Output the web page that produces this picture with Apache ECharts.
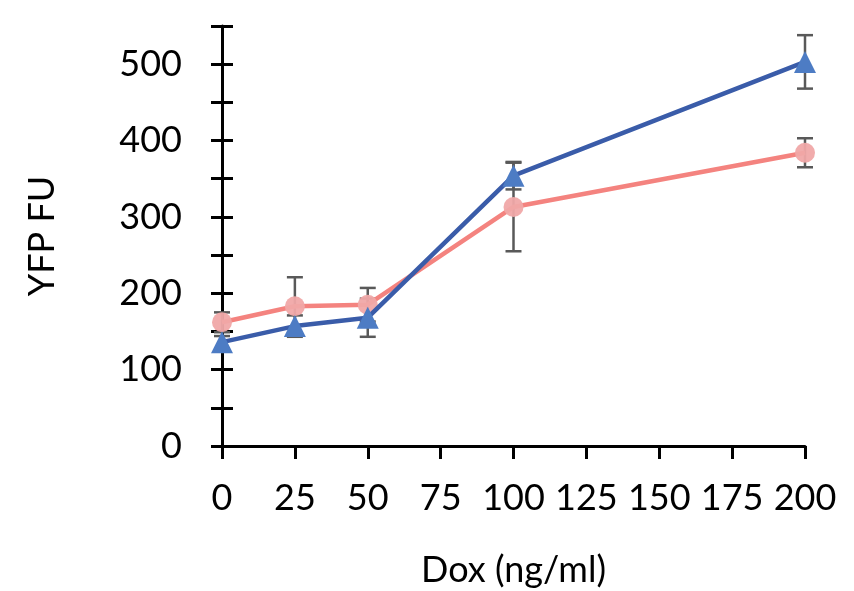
<!DOCTYPE html>
<html>
<head>
<meta charset="utf-8">
<script src="https://cdn.jsdelivr.net/npm/echarts@6/dist/echarts.min.js"></script>
<style>
  html, body { margin: 0; padding: 0; background: #fff; }
  #chart { width: 854px; height: 591px; }
</style>
</head>
<body>
<div id="chart"></div>
<script>
const doses = [0, 25, 50, 100, 200]
const xTicks = [0, 25, 50, 75, 100, 125, 150, 175, 200]

const pinkMean = [162, 183, 185, 313, 384]
const pinkErr = [13, 38, 22, 58, 19]
const blueMean = [136, 157, 168, 354, 503]
const blueErr = [8, 14, 25, 18, 35]

const FONT = 'Lato, "Open Sans", sans-serif'
const AXIS_COLOR = '#000'

function pairs(xs, ys) {
  return xs.map((x, i) => [x, ys[i]])
}

function errRows(xs, mean, err) {
  return xs.map((x, i) => [x, mean[i] - err[i], mean[i] + err[i]])
}

function renderErr(params, api) {
  const x = api.value(0)
  const lo = api.coord([x, api.value(1)])
  const hi = api.coord([x, api.value(2)])
  const cap = 8
  const style = { stroke: '#595959', lineWidth: 2.5 }
  return {
    type: 'group',
    children: [
      { type: 'line', shape: { x1: hi[0], y1: hi[1], x2: lo[0], y2: lo[1] }, style },
      { type: 'line', shape: { x1: hi[0] - cap, y1: hi[1], x2: hi[0] + cap, y2: hi[1] }, style },
      { type: 'line', shape: { x1: lo[0] - cap, y1: lo[1], x2: lo[0] + cap, y2: lo[1] }, style },
    ],
  }
}

const chart = echarts.init(document.getElementById('chart'))

chart.setOption({
  backgroundColor: '#ffffff',
  animation: false,
  grid: { left: 222, right: 49, top: 26, bottom: 145, outerBoundsMode: 'none' },
  xAxis: {
    type: 'value',
    min: 0,
    max: 200,
    interval: 25,
    name: 'Dox (ng/ml)',
    nameLocation: 'middle',
    nameGap: 106,
    nameTextStyle: { fontFamily: FONT, fontSize: 36, color: '#000' },
    axisLine: { show: true, lineStyle: { color: AXIS_COLOR, width: 3 } },
    axisTick: { show: true, length: 13, lineStyle: { color: AXIS_COLOR, width: 3 } },
    axisLabel: {
      margin: 34,
      fontFamily: FONT,
      fontSize: 36,
      color: '#000',
      formatter: (v) => (xTicks.includes(v) ? String(v) : ''),
    },
    splitLine: { show: false },
  },
  yAxis: [
    {
      type: 'value',
      min: 0,
      max: 550,
      interval: 50,
      name: 'YFP FU',
      nameLocation: 'middle',
      nameGap: 162,
      nameRotate: 90,
      nameTextStyle: { fontFamily: FONT, fontSize: 36, color: '#000' },
      axisLine: { show: true, lineStyle: { color: AXIS_COLOR, width: 3 } },
      axisTick: { show: true, length: 11, lineStyle: { color: AXIS_COLOR, width: 3 } },
      axisLabel: {
        margin: 40,
        fontFamily: FONT,
        fontSize: 36,
        color: '#000',
        formatter: (v) => (v % 100 === 0 ? String(v) : ''),
      },
      splitLine: { show: false },
    },
    {
      type: 'value',
      position: 'left',
      min: 0,
      max: 550,
      interval: 50,
      axisLine: { show: false },
      axisTick: { show: true, inside: true, length: 11, lineStyle: { color: AXIS_COLOR, width: 3 } },
      axisLabel: { show: false },
      splitLine: { show: false },
    },
  ],
  series: [
    {
      type: 'custom',
      renderItem: renderErr,
      data: errRows(doses, pinkMean, pinkErr),
      z: 1,
    },
    {
      type: 'custom',
      renderItem: renderErr,
      data: errRows(doses, blueMean, blueErr),
      z: 1,
    },
    {
      name: 'pink',
      type: 'line',
      data: pairs(doses, pinkMean),
      symbol: 'circle',
      symbolSize: 20,
      lineStyle: { color: '#f4837f', width: 4.5 },
      itemStyle: { color: '#f0a8a8', opacity: 0.95 },
      z: 2,
    },
    {
      name: 'blue',
      type: 'line',
      data: pairs(doses, blueMean),
      symbol: 'triangle',
      symbolSize: 22,
      lineStyle: { color: '#3a5ca9', width: 4.5 },
      itemStyle: { color: '#4d7cc4' },
      z: 3,
    },
  ],
})
</script>
</body>
</html>
